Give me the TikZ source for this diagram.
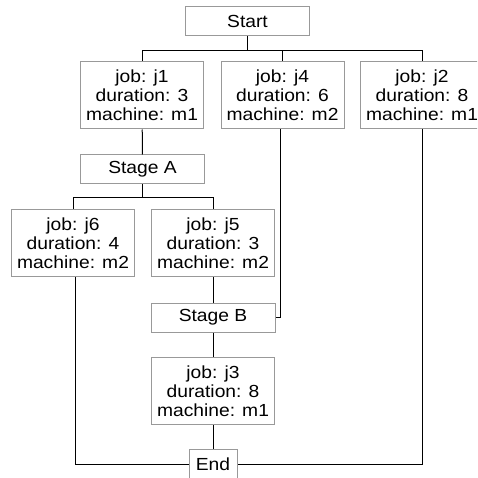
\documentclass[tikz,border=0pt]{standalone}
\usepackage{fontspec}
\setmainfont{Liberation Sans}[FakeStretch=1.1]
\usetikzlibrary{positioning}

\begin{document}
\begin{tikzpicture}[
  x=1pt, y=-1pt,
  every node/.style={draw=black!40, line width=1pt, inner sep=0pt, align=center,
    font=\fontsize{17.5}{19}\selectfont},
  jobbox/.style={minimum width=123pt, minimum height=67pt},
  stagebox/.style={minimum width=124pt, minimum height=29pt},
  link/.style={draw=black, line width=1pt}
]
\useasboundingbox (0,0) rectangle (477,478);
\clip (0,0) rectangle (477,478);

\node[stagebox] (start) at (247.5,21.5) {Start};

\node[jobbox] (j1) at (142,95.5) {job: j1\\duration: 3\\machine: m1};
\node[jobbox] (j4) at (282.5,95.5) {job: j4\\duration: 6\\machine: m2};
\node[jobbox] (j2) at (422,95.5) {job: j2\\duration: 8\\machine: m1};

\node[stagebox] (stageA) at (142.5,169.5) {Stage A};

\node[jobbox] (j6) at (73,243) {job: j6\\duration: 4\\machine: m2};
\node[jobbox] (j5) at (213,243) {job: j5\\duration: 3\\machine: m2};

\node[stagebox] (stageB) at (213,317.5) {Stage B};

\node[jobbox] (j3) at (213,391) {job: j3\\duration: 8\\machine: m1};

\node[minimum width=48pt, minimum height=30pt] (end) at (213,464.5) {End};

% start splits into three jobs
\draw[link] (start.south) -- ++(0,14) -| (j1.north);
\draw[link] (start.south) -- ++(0,14) -| (j4.north);
\draw[link] (start.south) -- ++(0,14) -| (j2.north);

\draw[link] (j1) -- (stageA);
\draw[link] (stageA.south) -- ++(0,13) -| (j6.north);
\draw[link] (stageA.south) -- ++(0,13) -| (j5.north);

\draw[link] (j5) -- (stageB);
\draw[link] ([xshift=-2pt]j4.south) |- (stageB.east);
\draw[link] (stageB) -- (j3);

% everything meets at the end
\draw[link] (j3) -- (end);
\draw[link] ([xshift=2pt]j6.south) |- (end.west);
\draw[link] (j2.south) |- (end.east);
\end{tikzpicture}
\end{document}
